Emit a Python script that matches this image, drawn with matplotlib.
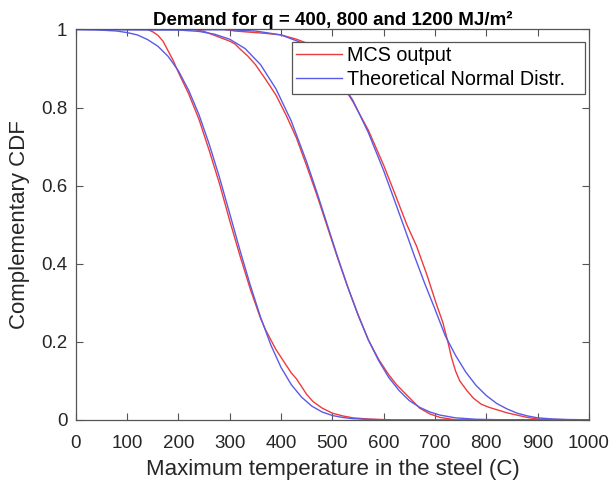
import matplotlib
matplotlib.use("Agg")
import matplotlib.pyplot as plt
from matplotlib.ticker import FuncFormatter

plt.rcParams['font.family'] = ['Liberation Sans', 'DejaVu Sans']

# Curves: (temperature, complementary CDF)
# q = 400 MJ/m2
mcs_400_x = [140, 150, 160, 170, 180, 190, 200, 220, 240, 260, 280, 300, 320, 340, 360, 370, 380, 390, 400,
             410, 420, 430, 440, 450, 462, 480, 500, 520, 540, 570, 612]
mcs_400_y = [1.0, 0.994, 0.985, 0.97, 0.945, 0.92, 0.89, 0.835, 0.77, 0.69, 0.605, 0.51, 0.42, 0.335, 0.26, 0.23,
             0.205, 0.18, 0.16, 0.14, 0.12, 0.105, 0.085, 0.065, 0.047, 0.03, 0.017, 0.01, 0.005, 0.002, 0.0]
norm_400_x = [0, 40, 80, 100, 120, 140, 160, 180, 200, 220, 240, 260, 280, 300, 320, 340, 360, 380, 400,
              420, 440, 460, 480, 500, 520, 540, 570, 600, 1000]
norm_400_y = [1.0, 0.999, 0.996, 0.992, 0.986, 0.974, 0.957, 0.931, 0.894, 0.844, 0.782, 0.706, 0.621, 0.528,
              0.434, 0.345, 0.263, 0.192, 0.134, 0.090, 0.058, 0.035, 0.020, 0.011, 0.006, 0.003, 0.001, 0.0, 0.0]

# q = 800 MJ/m2
mcs_800_x = [232, 250, 270, 290, 300, 310, 320, 335, 350, 370, 390, 410, 430, 450, 470, 490, 510, 530, 550,
             570, 590, 610, 625, 640, 655, 670, 690, 710, 740]
mcs_800_y = [1.0, 0.995, 0.985, 0.975, 0.97, 0.963, 0.95, 0.932, 0.91, 0.872, 0.832, 0.78, 0.722, 0.65, 0.575,
             0.495, 0.415, 0.34, 0.27, 0.205, 0.155, 0.115, 0.09, 0.07, 0.05, 0.03, 0.015, 0.006, 0.0]
norm_800_x = [0, 200, 240, 270, 300, 330, 360, 390, 420, 450, 470, 490, 510, 530, 550, 570, 590, 610, 630,
              650, 670, 690, 710, 740, 780, 820, 1000]
norm_800_y = [1.0, 0.9986, 0.995, 0.988, 0.975, 0.951, 0.910, 0.848, 0.765, 0.660, 0.582, 0.5, 0.418, 0.34,
              0.268, 0.205, 0.152, 0.108, 0.075, 0.049, 0.032, 0.020, 0.012, 0.005, 0.0014, 0.0003, 0.0]

# q = 1200 MJ/m2
mcs_1200_x = [290, 310, 340, 370, 400, 430, 450, 470, 490, 510, 540, 570, 600, 620, 645, 664, 684, 703, 715,
              725, 732, 740, 748, 762, 775, 790, 805, 820, 840, 860, 880, 900, 960]
mcs_1200_y = [1.0, 0.996, 0.993, 0.99, 0.986, 0.975, 0.965, 0.945, 0.915, 0.877, 0.815, 0.742, 0.652, 0.585, 0.5,
              0.445, 0.372, 0.295, 0.25, 0.2, 0.16, 0.125, 0.1, 0.075, 0.055, 0.04, 0.032, 0.026, 0.018, 0.012,
              0.006, 0.002, 0.0]
norm_1200_x = [0, 300, 350, 400, 440, 480, 510, 540, 570, 600, 620, 640, 660, 680, 700, 720, 740, 760, 780,
               800, 820, 840, 860, 880, 900, 930, 960, 1000]
norm_1200_y = [1.0, 0.999, 0.996, 0.986, 0.966, 0.928, 0.882, 0.818, 0.736, 0.638, 0.566, 0.493, 0.419, 0.349,
               0.283, 0.215, 0.165, 0.122, 0.088, 0.062, 0.042, 0.028, 0.017, 0.01, 0.005, 0.002, 0.0007, 0.0]

x_ticks = list(range(0, 1001, 100))
y_ticks = [0, 0.2, 0.4, 0.6, 0.8, 1]

red = '#ee3b3b'
blue = '#5a5ae6'

fig = plt.figure(figsize=(6.11, 4.91), dpi=100)
ax = fig.add_axes([0.124, 0.145, 0.840, 0.795])

pairs = [(mcs_400_x, mcs_400_y, norm_400_x, norm_400_y),
         (mcs_800_x, mcs_800_y, norm_800_x, norm_800_y),
         (mcs_1200_x, mcs_1200_y, norm_1200_x, norm_1200_y)]
for i, (mx, my, nx, ny) in enumerate(pairs):
    ax.plot(mx, my, color=red, lw=1.0, label="MCS output" if i == 0 else None)
    ax.plot(nx, ny, color=blue, lw=1.0, label="Theoretical Normal Distr.   " if i == 0 else None)

ax.set_xlim(0, 1000)
ax.set_ylim(0, 1)
ax.set_xticks(x_ticks)
ax.set_yticks(y_ticks)
ax.yaxis.set_major_formatter(FuncFormatter(lambda v, _: f"{v:g}"))
ax.tick_params(direction='in', length=5, width=0.8, colors='#555555',
               labelcolor='#262626', labelsize=13.5, top=True, right=True)
ax.tick_params(axis='x', pad=11)
ax.tick_params(axis='y', pad=6)
for s in ax.spines.values():
    s.set_color('#555555')
    s.set_linewidth(0.9)

ax.set_xlabel("Maximum temperature in the steel (C)", fontsize=16, color='#262626', labelpad=5)
ax.set_ylabel("Complementary CDF", fontsize=16, color='#262626', labelpad=8)
ax.set_title("Demand for q = 400, 800 and 1200 MJ/m²", fontsize=13.5, fontweight='bold', pad=3)

leg = ax.legend(loc='upper right', bbox_to_anchor=(0.993, 0.968), fontsize=14.2,
                frameon=True, fancybox=False, edgecolor='#555555', framealpha=1,
                borderpad=0.22, handlelength=2.3, handletextpad=0.25, labelspacing=0.25,
                borderaxespad=0)
leg.get_frame().set_linewidth(0.9)

fig.savefig("out.png", dpi=100)
